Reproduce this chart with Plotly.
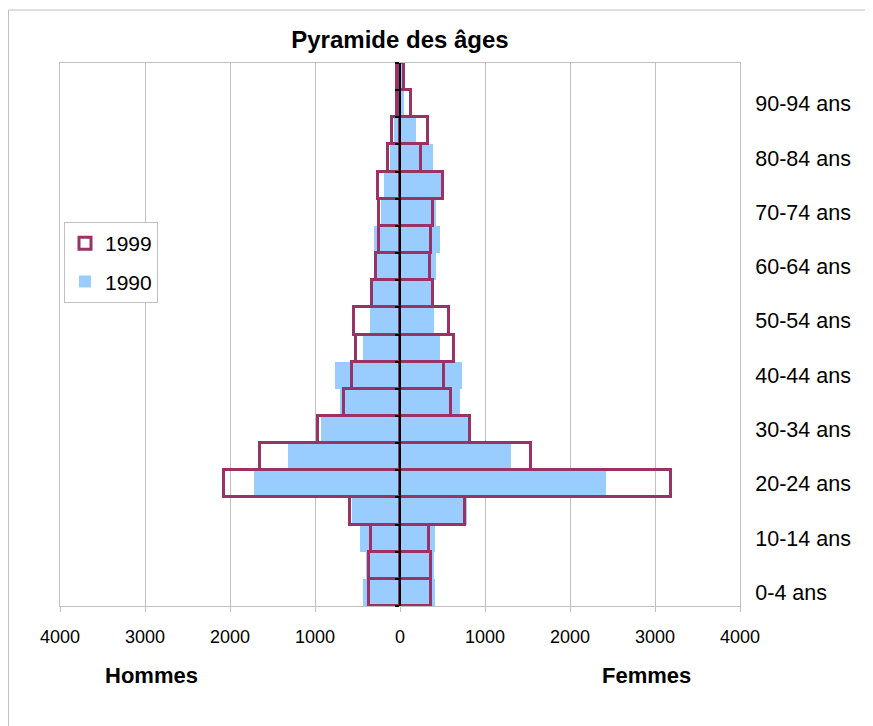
import plotly.graph_objects as go

ages = ["0-4 ans", "5-9 ans", "10-14 ans", "15-19 ans", "20-24 ans", "25-29 ans",
        "30-34 ans", "35-39 ans", "40-44 ans", "45-49 ans", "50-54 ans", "55-59 ans",
        "60-64 ans", "65-69 ans", "70-74 ans", "75-79 ans", "80-84 ans", "85-89 ans",
        "90-94 ans", "95-99 ans"]

men_1990 = [440, 400, 467, 560, 1720, 1320, 930, 710, 760, 430,
            350, 320, 300, 310, 225, 190, 120, 70, 20, 15]
women_1990 = [410, 400, 415, 790, 2420, 1310, 810, 705, 730, 475,
              395, 385, 420, 470, 420, 480, 390, 190, 50, 25]
men_1999 = [370, 365, 341, 590, 2070, 1650, 960, 660, 570, 520,
            540, 330, 280, 250, 245, 255, 140, 100, 30, 35]
women_1999 = [370, 365, 345, 765, 3190, 1540, 820, 600, 520, 630,
              580, 390, 355, 365, 390, 510, 250, 330, 130, 45]

x_ticks = [-4000, -3000, -2000, -1000, 0, 1000, 2000, 3000, 4000]
x_ticktext = [str(abs(v)) for v in x_ticks]

ypos = list(range(len(ages)))
FONT = "Liberation Sans, Arial, sans-serif"
BLUE = "#99CCFF"
PLUM = "#993366"
GRID = "#c0c0c0"

# page is rendered with an 8px body margin: figure is offset by (8, 8)
OFF = 8
W, H = 873 - OFF, 726 - OFF
PL, PR, PT, PB = 60, 740, 63, 606  # plot area in page pixels


def px_x(p):
    return (p - PL) / (PR - PL)


def px_y(p):
    return (PB - p) / (PB - PT)


fig = go.Figure()
# 1990 (filled)
fig.add_trace(go.Bar(y=ypos, x=[-v for v in men_1990], orientation="h", name="1990",
                     legendgroup="1990", legendrank=2,
                     marker=dict(color=BLUE, line=dict(width=0)), showlegend=True))
fig.add_trace(go.Bar(y=ypos, x=women_1990, orientation="h", name="1990",
                     legendgroup="1990", legendrank=2,
                     marker=dict(color=BLUE, line=dict(width=0)), showlegend=False))
# 1999 (outline)
fig.add_trace(go.Bar(y=ypos, x=[-v for v in men_1999], orientation="h", name="1999",
                     legendgroup="1999", legendrank=1,
                     marker=dict(color="rgba(0,0,0,0)", line=dict(color=PLUM, width=3)),
                     showlegend=True))
fig.add_trace(go.Bar(y=ypos, x=women_1999, orientation="h", name="1999",
                     legendgroup="1999", legendrank=1,
                     marker=dict(color="rgba(0,0,0,0)", line=dict(color=PLUM, width=3)),
                     showlegend=False))
# invisible trace to carry the central axis (line + ticks at x=0)
fig.add_trace(go.Scatter(x=[0], y=[0], yaxis="y2", mode="markers",
                         marker=dict(opacity=0), showlegend=False, hoverinfo="skip"))

boundaries = [p - 0.5 for p in ypos] + [ypos[-1] + 0.5]

fig.update_layout(
    width=W, height=H,
    margin=dict(l=PL - OFF, r=W - (PR - OFF), t=PT - OFF, b=H - (PB - OFF), autoexpand=False),
    paper_bgcolor="white", plot_bgcolor="white",
    barmode="overlay", bargap=0,
    font=dict(family=FONT, color="black"),
    title=dict(text="<b>Pyramide des âges</b>", x=0.5, xref="paper", xanchor="center",
               y=1 - (40 - OFF) / H, yanchor="middle", font=dict(size=24, family=FONT)),
    xaxis=dict(range=[-4000, 4000], tickvals=x_ticks, ticktext=x_ticktext,
               showgrid=True, gridcolor=GRID, gridwidth=1, zeroline=False,
               showline=True, linecolor=GRID, linewidth=1, mirror=True,
               ticks="outside", ticklen=5, tickcolor=GRID,
               tickfont=dict(size=18), ticklabelstandoff=9, fixedrange=True),
    yaxis=dict(range=[-0.5, len(ages) - 0.5], side="right",
               tickvals=ypos[::2], ticktext=ages[::2], ticks="",
               showgrid=False, zeroline=False, showline=True, linecolor=GRID,
               linewidth=1, mirror=True, tickfont=dict(size=21.5),
               ticklabelstandoff=10, fixedrange=True),
    yaxis2=dict(overlaying="y", anchor="free", position=0.5, side="left",
                matches="y", showticklabels=False, showgrid=False, zeroline=False,
                showline=True, linecolor="black", linewidth=2,
                tickvals=boundaries, ticks="outside", ticklen=4, tickwidth=2,
                tickcolor="black"),
    legend=dict(x=px_x(64), y=px_y(222), xanchor="left", yanchor="top",
                traceorder="grouped", tracegroupgap=8,
                bordercolor=GRID, borderwidth=1, bgcolor="white",
                font=dict(size=21, family=FONT)),
    annotations=[
        dict(text="<b>Hommes</b>", x=px_x(151), y=px_y(675),
             xref="paper", yref="paper", showarrow=False, font=dict(size=22, family=FONT),
             xanchor="center", yanchor="middle"),
        dict(text="<b>Femmes</b>", x=px_x(646), y=px_y(675),
             xref="paper", yref="paper", showarrow=False, font=dict(size=22, family=FONT),
             xanchor="center", yanchor="middle"),
    ],
    shapes=[
        dict(type="line", xref="paper", yref="paper", x0=px_x(8.5), x1=px_x(8.5),
             y0=px_y(740), y1=px_y(10), line=dict(color=GRID, width=1)),
        dict(type="line", xref="paper", yref="paper", x0=px_x(8.5), x1=px_x(890),
             y0=px_y(10), y1=px_y(10), line=dict(color=GRID, width=1)),
    ],
)

fig.write_html("out.html")
